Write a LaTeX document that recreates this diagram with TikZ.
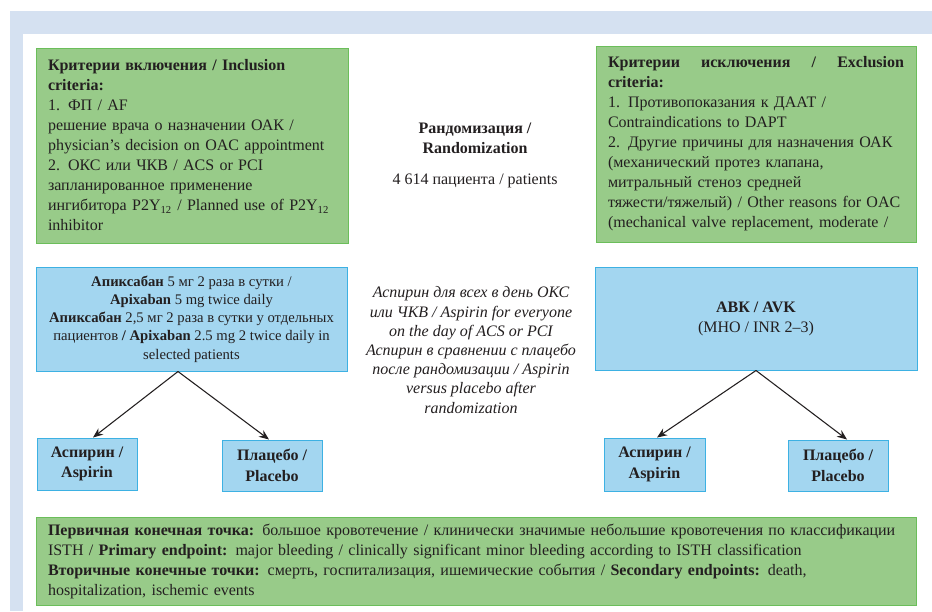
\documentclass[tikz,border=0pt]{standalone}
\usepackage{fontspec}
\IfFontExistsTF{LiberationSerif-Regular.ttf}{%
\setmainfont{LiberationSerif}[Extension=.ttf,UprightFont=*-Regular,BoldFont=*-Bold,ItalicFont=*-Italic,BoldItalicFont=*-BoldItalic]}{%
\setmainfont{Liberation Serif}}
\usetikzlibrary{arrows.meta,calc}
\definecolor{framec}{HTML}{D5E1F1}
\definecolor{gfill}{HTML}{98CB89}
\definecolor{gline}{HTML}{6BBE5A}
\definecolor{bfill}{HTML}{A3D6F0}
\definecolor{bline}{HTML}{3DB1E3}
\definecolor{ink}{HTML}{231F20}
\begin{document}
\begin{tikzpicture}[x=0.75pt,y=-0.75pt,
  every node/.style={text=ink, font=\fontsize{12}{15}\selectfont, inner sep=0pt},
  gbox/.style={draw=gline, fill=gfill, line width=0.75pt, rectangle},
  bbox/.style={draw=bline, fill=bfill, line width=0.75pt, rectangle},
  arr/.style={draw=ink, line width=0.8pt, -{Stealth[length=7.5pt,width=6pt]}}]
\useasboundingbox (0,0) rectangle (932,611);
% frame
\fill[framec] (10,11) rectangle (932,611);
\fill[white] (23,34) rectangle (932,611);

% inclusion criteria
\node[gbox, minimum width=234pt, minimum height=146.25pt, inner xsep=9pt, text width=216pt, align=left] (inc) at (192,145.5)
{\textbf{Критерии включения / Inclusion}\\
\textbf{criteria:}\\
1. ФП / AF\\
решение врача о назначении ОАК /\\
physician’s decision on OAC appointment\\
2. ОКС или ЧКВ / ACS or PCI\\
запланированное применение\\
ингибитора P2Y\textsubscript{12} / Planned use of P2Y\textsubscript{12}\\
inhibitor};

% exclusion criteria
\node[gbox, minimum width=240pt, minimum height=147pt, inner xsep=9pt, text width=222pt, align=left] (exc) at (756,144)
{\textbf{Критерии\hfill исключения\hfill /\hfill Exclusion}\\
\textbf{criteria:}\\
1. Противопоказания к ДААТ /\\
Contraindications to DAPT\\
2. Другие причины для назначения ОАК\\
(механический протез клапана,\\
митральный стеноз средней\\
тяжести/тяжелый) / Other reasons for OAC\\
(mechanical valve replacement, moderate /};

% randomization
\node[align=center, font=\fontsize{12}{15}\selectfont\bfseries] (rand) at (475,138) {Рандомизация /\\Randomization};
\node (pats) at (475,181) {4 614 пациента / patients};

% apixaban box
\node[bbox, minimum width=233.25pt, minimum height=78pt, align=center, font=\fontsize{11}{13.7}\selectfont] (lb) at (191.5,319)
{\textbf{Апиксабан} 5 мг 2 раза в сутки /\\
\textbf{Apixaban} 5 mg twice daily\\
\textbf{Апиксабан} 2,5 мг 2 раза в сутки у отдельных\\
пациентов \textbf{/ Apixaban} 2.5 mg 2 twice daily in\\
selected patients};

% italic middle text
\node[align=center, font=\fontsize{12}{14.4}\selectfont\itshape] (asp) at (471,350)
{Аспирин для всех в день ОКС\\
или ЧКВ / Aspirin for everyone\\
on the day of ACS or PCI\\
Аспирин в сравнении с плацебо\\
после рандомизации / Aspirin\\
versus placebo after\\
randomization};

% AVK box
\node[bbox, minimum width=241.5pt, minimum height=77.25pt, align=center] (rb) at (756,318.5)
{\textbf{АВК / AVK}\\(МНО / INR 2–3)};

% small boxes
\node[bbox, minimum width=75pt, minimum height=39pt, align=center, font=\fontsize{12}{15.5}\selectfont\bfseries] (la) at (87,464) {Аспирин /\\Aspirin};
\node[bbox, minimum width=75pt, minimum height=38.25pt, align=center, font=\fontsize{12}{15.5}\selectfont\bfseries] (lp) at (272,465.5) {Плацебо /\\Placebo};
\node[bbox, minimum width=75.75pt, minimum height=39.75pt, align=center, font=\fontsize{12}{15.5}\selectfont\bfseries] (ra) at (654.5,464.5) {Аспирин /\\Aspirin};
\node[bbox, minimum width=75pt, minimum height=38.25pt, align=center, font=\fontsize{12}{15.5}\selectfont\bfseries] (rp) at (838,465.5) {Плацебо /\\Placebo};

% arrows
\coordinate (lapex) at ($(lb.south)+(-13.5,0)$);
\coordinate (rapex) at (rb.south);
\draw[arr] (lapex) -- ($(la.north)+(6,0)$);
\draw[arr] (lapex) -- ($(lp.north)+(-3,0)$);
\draw[arr] (rapex) -- ($(ra.north)+(2.5,0)$);
\draw[arr] (rapex) -- ($(rp.north)+(9,0)$);

% endpoints
\node[gbox, minimum width=660pt, minimum height=66pt, inner xsep=9pt, text width=642pt, align=left] (endp) at (476,561)
{\textbf{Первичная конечная точка:} большое кровотечение / клинически значимые небольшие кровотечения по классификации\\
ISTH / \textbf{Primary endpoint:} major bleeding / clinically significant minor bleeding according to ISTH classification\\
\textbf{Вторичные конечные точки:} смерть, госпитализация, ишемические события / \textbf{Secondary endpoints:} death,\\
hospitalization, ischemic events};
\end{tikzpicture}
\end{document}
